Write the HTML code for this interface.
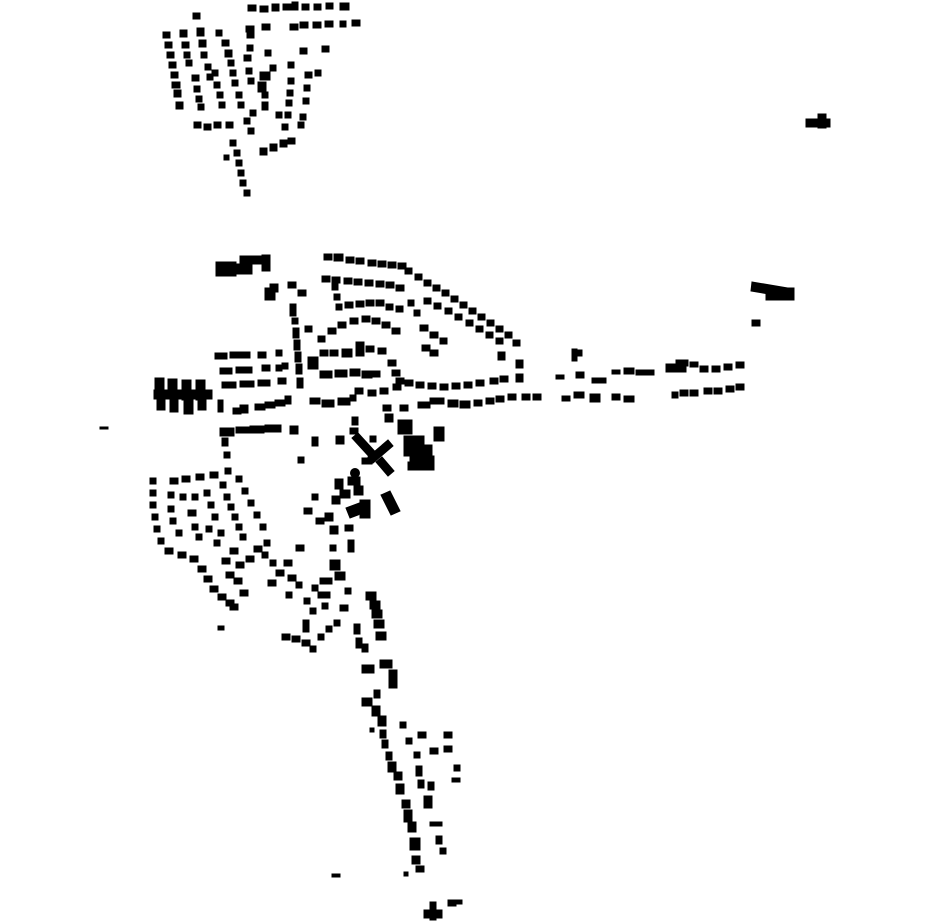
<!DOCTYPE html>
<html><head><meta charset="utf-8"><style>html,body{margin:0;padding:0;background:#fff}svg{display:block}</style></head>
<body>
<svg width="930" height="924" viewBox="0 0 930 924" xmlns="http://www.w3.org/2000/svg">
<g fill="#000" stroke="#000" stroke-width="1" stroke-linejoin="miter">
<path d="
M248 5h8v6h-8z M260 6h8v6h-8z M272 4h7v7h-7z M283 4h8v6h-8z M292 2h6v8h-6z M302 4h7v6h-7z M314 4h7v6h-7z M326 3h7v6h-7z M340 3h9v7h-9z
M246 26h8v6h-8z M262 24h8v6h-8z M290 24h8v6h-8z M300 22h8v6h-8z M313 22h8v6h-8z M325 21h8v6h-8z M340 21h6v6h-6z M352 20h8v6h-8z M193 13h7v6h-7z
M163 32h7v6h-7z M165 42h7v6h-7z M167 52h7v6h-7z M169 62h7v6h-7z M171 72h7v6h-7z M172 82h8v6h-8z M174 90h7v7h-7z M176 102h7v7h-7z
M180 30h7v7h-7z M182 42h7v6h-7z M184 52h6v6h-6z M186 60h6v6h-6z
M197 28h7v8h-7z M199 40h7v7h-7z M201 52h6v6h-6z M205 64h6v6h-6z M207 74h6v6h-6z M192 75h7v6h-7z M194 86h6v6h-6z M196 96h6v6h-6z M198 104h6v6h-6z
M216 30h6v6h-6z M222 40h7v6h-7z M225 50h7v7h-7z M228 60h6v6h-6z M230 70h6v6h-6z M212 70h6v6h-6z M214 82h6v6h-6z M217 92h6v6h-6z M219 102h6v6h-6z M232 80h6v6h-6z M236 92h6v6h-6z M238 102h6v6h-6z
M194 122h7v6h-7z M204 124h7v6h-7z M214 122h7v6h-7z M226 122h7v6h-7z
M247 32h7v6h-7z M247 45h6v6h-6z M244 55h7v6h-7z M246 68h6v6h-6z M248 78h6v6h-6z M260 72h10v8h-10z M258 82h8v10h-8z M262 92h6v6h-6z M262 102h6v8h-6z M250 110h6v6h-6z M244 118h6v6h-6z M248 128h6v6h-6z
M265 50h6v6h-6z M270 65h6v6h-6z M288 62h6v6h-6z M300 48h7v6h-7z M322 46h7v6h-7z M305 72h7v6h-7z M315 70h6v6h-6z M288 78h6v6h-6z M287 90h6v6h-6z M304 85h6v6h-6z M286 100h6v6h-6z M303 98h6v6h-6z M285 112h6v6h-6z M300 114h6v6h-6z M282 124h6v6h-6z M298 122h6v6h-6z M276 112h6v6h-6z
M260 148h7v7h-7z M270 144h7v7h-7z M280 140h7v7h-7z M288 138h7v6h-7z
M230 140h6v6h-6z M234 150h6v6h-6z M236 160h6v6h-6z M238 170h6v6h-6z M240 180h6v6h-6z M244 190h6v6h-6z M224 155h5v5h-5z
M806 119h24v8h-24z M818 114h8v14h-8z
M216 262h20v14h-20z M240 256h28v8h-28z M236 264h16v10h-16z M262 255h8v16h-8z M265 288h10v12h-10z M270 284h8v8h-8z
M324 254h8v6h-8z M334 254h9v7h-9z M346 257h8v6h-8z M356 258h8v6h-8z M368 260h8v6h-8z M378 261h8v6h-8z M388 262h8v6h-8z M398 263h8v6h-8z
M405 268h7v6h-7z M415 274h7v6h-7z M424 280h7v6h-7z M433 285h7v6h-7z M442 290h7v6h-7z M451 296h7v6h-7z M460 302h7v6h-7z M469 308h7v6h-7z M478 314h7v6h-7z M487 320h7v6h-7z M496 326h7v6h-7z M505 332h7v6h-7z M513 340h7v6h-7z
M322 276h8v6h-8z M332 277h8v6h-8z M344 278h8v6h-8z M354 279h8v6h-8z M365 280h8v6h-8z M376 281h8v6h-8z M386 282h8v6h-8z M396 285h8v6h-8z
M408 300h6v6h-6z M414 310h6v6h-6z M424 298h7v6h-7z M434 303h7v6h-7z M445 308h7v6h-7z M455 314h7v6h-7z M466 320h7v6h-7z M476 326h7v6h-7z M486 332h7v6h-7z M496 338h7v6h-7z M498 352h7v8h-7z M420 325h8v6h-8z M430 332h8v6h-8z M440 338h7v6h-7z M422 345h8v6h-8z M430 350h8v6h-8z
M332 284h6v6h-6z M334 294h6v6h-6z M336 304h6v6h-6z
M345 302h8v6h-8z M356 301h8v6h-8z M366 300h8v6h-8z M376 300h8v6h-8z M386 304h7v6h-7z M396 306h7v6h-7z
M288 282h8v6h-8z M298 290h8v6h-8z M290 304h6v12h-6z M292 318h6v6h-6z M293 328h6v10h-6z M294 340h6v10h-6z M295 352h6v10h-6z M296 364h6v10h-6z M297 378h6v10h-6z
M305 326h7v6h-7z M318 336h7v6h-7z M328 328h8v6h-8z M338 322h8v6h-8z M350 318h8v6h-8z M362 316h8v6h-8z M372 318h8v6h-8z M382 322h8v6h-8z M392 328h8v6h-8z
M308 357h10v12h-10z M320 350h8v6h-8z M330 350h8v6h-8z M342 349h10v8h-10z M356 342h8v14h-8z M366 346h8v6h-8z M378 348h8v6h-8z M388 360h8v6h-8z M392 370h8v6h-8z M396 378h8v6h-8z
M320 371h12v7h-12z M335 370h12v7h-12z M350 369h10v7h-10z M362 371h10v7h-10z M372 371h8v6h-8z
M215 353h12v6h-12z M230 352h20v6h-20z M258 352h8v6h-8z M276 350h6v6h-6z M220 368h12v6h-12z M236 367h16v6h-16z M262 365h8v6h-8z M276 365h6v6h-6z M222 382h14v6h-14z M240 381h14v6h-14z M258 380h12v6h-12z M278 378h8v6h-8z M282 363h6v6h-6z
M155 378h9v20h-9z M168 379h9v20h-9z M182 380h9v20h-9z M196 380h9v20h-9z M154 390h58v9h-58z M157 398h8v12h-8z M170 400h8v12h-8z M184 400h9v14h-9z M198 400h8v10h-8z
M218 400h5v12h-5z M233 408h8v6h-8z M240 405h8v8h-8z M255 404h10v6h-10z M265 402h10v6h-10z M275 400h10v6h-10z M285 396h6v8h-6z
M310 398h10v6h-10z M322 400h12v7h-12z M338 398h12v7h-12z M350 395h6v6h-6z M355 388h8v6h-8z M368 390h8v6h-8z M380 388h8v6h-8z M393 384h8v6h-8z
M405 380h8v6h-8z M416 382h8v6h-8z M428 383h8v6h-8z M440 384h8v6h-8z M452 383h8v6h-8z M464 382h8v6h-8z M476 380h8v6h-8z M490 378h8v6h-8z M500 376h8v6h-8z M516 374h7v8h-7z M516 360h7v8h-7z
M418 402h12v6h-12z M430 398h14v6h-14z M448 400h10v7h-10z M460 401h10v7h-10z M474 400h8v6h-8z M486 398h8v6h-8z M496 396h8v6h-8z M508 394h8v6h-8z M522 394h8v6h-8z M533 394h8v6h-8z
M556 375h8v4h-8z M572 349h5v12h-5z M578 350h4v6h-4z M576 372h8v6h-8z M592 378h14v5h-14z M562 396h8v5h-8z M574 392h10v6h-10z M590 394h10v8h-10z M612 394h8v6h-8z M624 396h10v6h-10z
M612 370h8v4h-8z M624 368h10v6h-10z M636 370h10v5h-10z M646 370h8v5h-8z M666 364h20v8h-20z M676 360h12v6h-12z M690 362h8v5h-8z M700 366h8v6h-8z M712 366h8v6h-8z M724 364h8v6h-8z M736 362h8v6h-8z
M672 392h6v6h-6z M680 390h8v6h-8z M690 390h8v6h-8z M704 388h8v6h-8z M714 388h8v6h-8z M726 386h8v6h-8z M736 384h8v6h-8z
M752 282l36 6l-1 9l-36-6z M766 288h28v12h-28z M752 320h8v6h-8z
M100 427h8v2h-8z
M220 428h14v8h-14z M236 427h14v6h-14z M250 426h14v7h-14z M265 425h16v7h-16z M290 426h8v8h-8z M222 438h6v8h-6z M224 452h6v6h-6z
M312 437h6v9h-6z M298 457h6v6h-6z M336 436h8v8h-8z M350 428h8v6h-8z M352 417h6v8h-6z M370 436h6v6h-6z M385 414h8v8h-8z M383 405h8v6h-8z M400 405h8v6h-8z
M398 420h14v14h-14z M434 427h10v14h-10z M404 436h20v20h-20z M410 445h22v22h-22z M416 456h18v14h-18z M408 462h10v8h-10z
M352 438l6-5l22 24l-6 5z M368 457l20-17l5 6l-20 17z M376 462l6-5l12 14l-6 5z M362 458h10v6h-10z
M335 479h8v10h-8z M348 477h12v8h-12z M354 486h9v9h-9z M340 490h10v8h-10z M332 496h8v8h-8z M346 508l16-6l4 10l-16 6z M360 500h10v18h-10z M381 495l9-4l10 20l-9 4z
M304 508h8v6h-8z M316 518h8v6h-8z M325 513h8v8h-8z M330 526h8v8h-8z M345 525h8v6h-8z M348 540h6v12h-6z M330 545h6v6h-6z M330 560h10v10h-10z M335 572h10v8h-10z M320 578h12v6h-12z M318 592h12v6h-12z M345 588h6v6h-6z M340 605h8v6h-8z M312 494h6v6h-6z
M296 545h8v6h-8z M284 560h8v6h-8z M276 570h8v6h-8z M268 580h8v6h-8z M288 575h8v6h-8z M296 582h6v6h-6z M286 592h6v6h-6z M304 598h6v6h-6z M310 608h6v6h-6z M303 620h6v12h-6z M312 585h6v6h-6z M322 603h6v6h-6z
M150 478h6v6h-6z M150 490h6v6h-6z M150 502h6v6h-6z M152 514h6v6h-6z M154 526h6v6h-6z M158 538h6v6h-6z M165 548h8v6h-8z M178 552h8v6h-8z M190 556h8v6h-8z M198 566h8v6h-8z M204 576h8v6h-8z M210 586h8v6h-8z M218 594h8v6h-8z M226 600h8v6h-8z M230 604h8v6h-8z
M170 478h8v6h-8z M182 476h8v6h-8z M196 474h8v6h-8z M210 472h8v6h-8z M225 468h6v6h-6z M220 482h6v6h-6z M224 494h6v6h-6z M228 504h6v6h-6z M232 514h6v6h-6z M236 524h6v6h-6z M240 534h6v6h-6z M230 548h8v6h-8z M222 558h8v6h-8z M236 562h8v6h-8z M226 572h8v6h-8z M234 578h8v6h-8z M240 590h8v6h-8z M246 556h8v6h-8z M254 546h8v6h-8z M264 540h6v6h-6z M260 524h6v6h-6z M254 512h6v6h-6z M248 500h6v6h-6z M242 488h6v6h-6z M236 476h6v6h-6z M262 552h6v6h-6z M270 560h6v6h-6z
M168 492h6v6h-6z M180 494h6v6h-6z M192 494h6v6h-6z M204 490h6v6h-6z M168 506h6v6h-6z M170 518h6v6h-6z M176 530h6v6h-6z M188 510h8v6h-8z M192 524h6v6h-6z M196 534h6v6h-6z M206 526h6v6h-6z M212 514h6v6h-6z M208 502h6v6h-6z M214 540h6v6h-6z M218 530h6v6h-6z
M282 634h8v6h-8z M292 636h8v6h-8z M302 640h8v6h-8z M310 646h6v6h-6z M318 634h6v6h-6z M326 626h6v6h-6z M334 620h6v6h-6z M218 626h6v4h-6z
M366 592h10v8h-10z M370 601h10v8h-10z M372 610h10v8h-10z M374 620h10v8h-10z M376 632h10v8h-10z M354 624h6v10h-6z M356 638h6v10h-6z M362 644h6v8h-6z
M362 665h12v8h-12z M380 660h12v8h-12z M389 670h8v18h-8z M374 690h6v8h-6z M362 698h10v8h-10z M372 706h8v10h-8z M378 716h8v10h-8z M380 730h6v8h-6z M382 740h6v8h-6z M386 752h6v8h-6z M388 762h8v10h-8z M394 772h8v8h-8z M396 784h8v10h-8z M402 800h8v8h-8z M404 810h8v12h-8z M408 822h8v10h-8z M410 838h10v12h-10z M412 856h8v8h-8z M416 866h8v6h-8z M404 872h4v4h-4z M370 728h4v4h-4z
M400 722h6v6h-6z M406 738h6v6h-6z M418 732h8v6h-8z M444 732h8v6h-8z M444 746h8v6h-8z M430 748h8v6h-8z M414 752h6v6h-6z M416 766h6v10h-6z M418 780h6v8h-6z M424 796h8v12h-8z M454 765h6v6h-6z M452 778h8v4h-8z M430 822h12v4h-12z M436 836h6v8h-6z M440 848h6v6h-6z M428 782h6v8h-6z
M332 874h8v3h-8z M424 910h18v8h-18z M430 902h6v18h-6z M448 900h8v6h-8z M456 900h6v4h-6z
"/>
<circle cx="355" cy="473" r="4.5"/>
</g>
</svg>
</body></html>
